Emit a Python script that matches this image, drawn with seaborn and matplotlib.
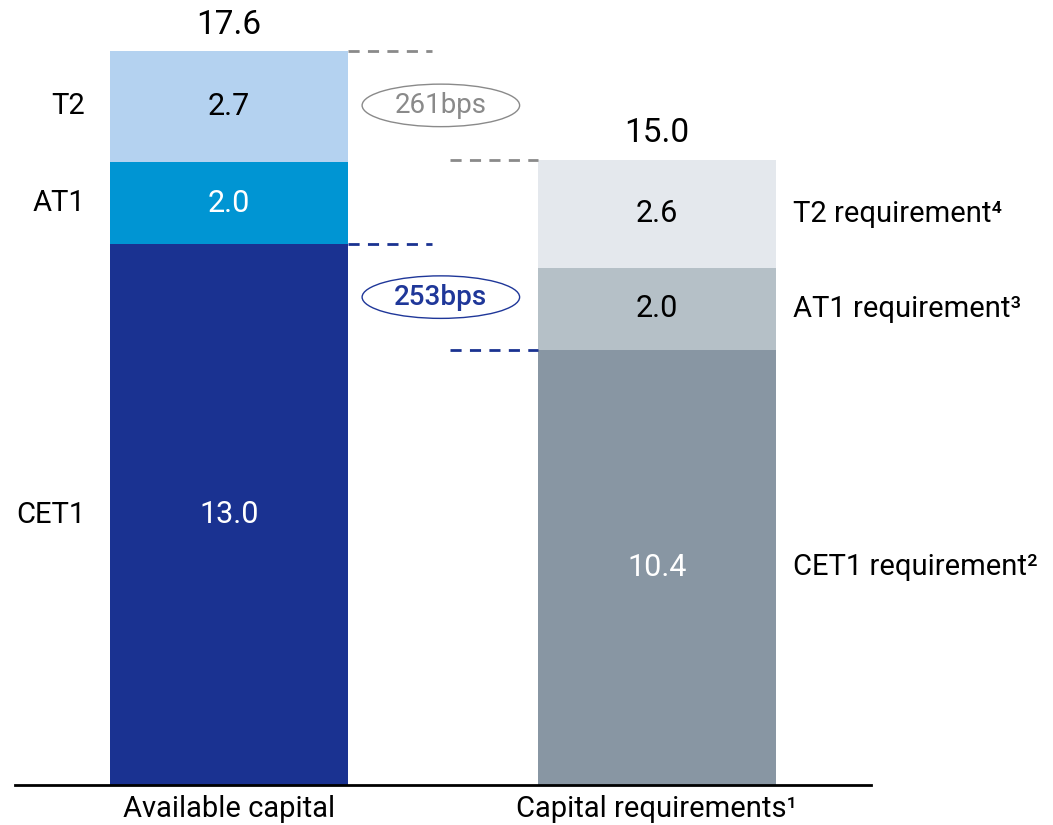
import numpy as np
import pandas as pd
import seaborn as sns
import matplotlib.pyplot as plt
from matplotlib.patches import Ellipse

# data (% of RWA)
categories = ["Available capital", "Capital requirements¹"]
layers = ["CET1", "AT1", "T2"]
available = [12.97, 1.98, 2.66]
required = [10.44, 1.97, 2.59]
left_labels = ["CET1", "AT1", "T2"]
right_labels = ["CET1 requirement²", "AT1 requirement³", "T2 requirement⁴"]

avail_colors = ["#1a3291", "#0095d3", "#b4d2f0"]
req_colors = ["#8896a3", "#b5c0c7", "#e4e8ed"]
avail_text = ["white", "white", "black"]
req_text = ["white", "black", "black"]

sns.set_theme(style="white")
plt.rcParams["font.family"] = ["Roboto", "DejaVu Sans"]
plt.rcParams["text.color"] = "black"

fig = plt.figure(figsize=(10.53, 8.25), dpi=100)
ax = fig.add_axes([15 / 1053, 1 - 785 / 825, (871 - 15) / 1053, (785 - 51) / 825])

width = 0.556
cum_a = np.cumsum(available)
cum_r = np.cumsum(required)

# stacked bars: draw cumulative totals from the top layer down
for i in reversed(range(len(layers))):
    df = pd.DataFrame({"cat": categories, "val": [cum_a[i], cum_r[i]]})
    sns.barplot(data=df, x="cat", y="val", hue="cat",
                palette=[avail_colors[i], req_colors[i]],
                width=width, saturation=1, legend=False, ax=ax, linewidth=0)

fs = 21
nfs = 22
for i in range(len(layers)):
    mid_a = cum_a[i] - available[i] / 2
    mid_r = cum_r[i] - required[i] / 2
    ax.text(0, mid_a, f"{available[i]:.1f}", ha="center", va="center",
            color=avail_text[i], fontsize=nfs)
    ax.text(1, mid_r, f"{required[i]:.1f}", ha="center", va="center",
            color=req_text[i], fontsize=nfs)
    ax.text(-0.336, mid_a, left_labels[i], ha="right", va="center",
            fontsize=fs, clip_on=False)
    ax.text(1.318, mid_r, right_labels[i], ha="left", va="center",
            fontsize=fs, clip_on=False)

ax.text(0, cum_a[-1] + 0.25, f"{cum_a[-1]:.1f}", ha="center", va="bottom",
        fontsize=nfs + 2, clip_on=False)
ax.text(1, cum_r[-1] + 0.25, f"{cum_r[-1]:.1f}", ha="center", va="bottom",
        fontsize=nfs + 2, clip_on=False)

# dashed connectors and bps bubbles
def gap(top_a, top_r, color, tcolor, weight):
    ax.plot([width / 2, 0.474], [top_a, top_a], ls=(0, (4, 3)), lw=2, color=color, clip_on=False)
    ax.plot([0.516, 1 - width / 2], [top_r, top_r], ls=(0, (4, 3)), lw=2, color=color, clip_on=False)
    y = (top_a + top_r) / 2
    ax.add_patch(Ellipse((0.495, y), 0.368, 1.02, fill=False, ec=tcolor, lw=1, clip_on=False))
    ax.text(0.495, y, f"{round((top_a - top_r) * 100)}bps", ha="center", va="center",
            color=tcolor, fontsize=20, fontweight=weight)

gap(cum_a[-1], cum_r[-1], "#8a8a8a", "#8a8a8a", "normal")
gap(cum_a[0], cum_r[0], "#1a3291", "#1f3799", "medium")

ax.set_xlim(-0.5, 1.5)
ax.set_ylim(0, cum_a[-1])
ax.set_yticks([])
ax.set_xlabel("")
ax.set_ylabel("")
ax.tick_params(axis="x", length=0, labelsize=fs, pad=7, colors="black")
for s in ["top", "left", "right"]:
    ax.spines[s].set_visible(False)
ax.spines["bottom"].set_color("black")
ax.spines["bottom"].set_linewidth(2)

fig.savefig("out.png", dpi=100)
